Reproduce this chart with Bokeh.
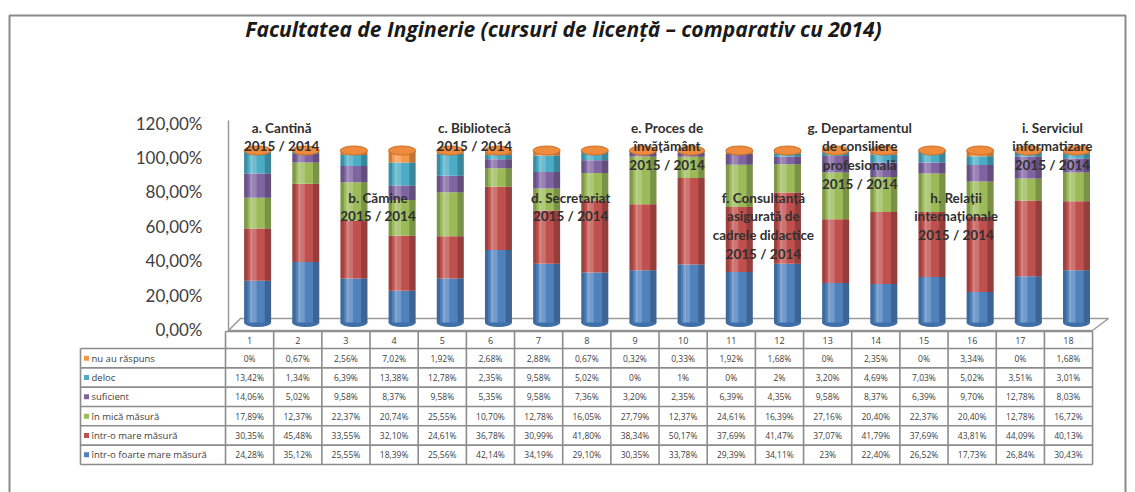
import numpy as np
from bokeh.plotting import figure
from bokeh.models import ColumnDataSource, Range1d, LinearAxis, FixedTicker, CustomJSTickFormatter
from bokeh.transform import dodge
from bokeh.core.properties import value
from bokeh.embed import file_html
from bokeh.resources import INLINE

# ---------------- data ----------------
title_text = "Facultatea de Inginerie (cursuri de licență – comparativ cu 2014)"
columns = list(range(1, 19))
series_names = ["nu au răspuns", "deloc", "suficient", "în mică măsură",
                "într-o mare măsură", "într-o foarte mare măsură"]
nu_au_raspuns = [0, 0.67, 2.56, 7.02, 1.92, 2.68, 2.88, 0.67, 0.32, 0.33, 1.92, 1.68, 0, 2.35, 0, 3.34, 0, 1.68]
deloc = [13.42, 1.34, 6.39, 13.38, 12.78, 2.35, 9.58, 5.02, 0, 1, 0, 2, 3.20, 4.69, 7.03, 5.02, 3.51, 3.01]
suficient = [14.06, 5.02, 9.58, 8.37, 9.58, 5.35, 9.58, 7.36, 3.20, 2.35, 6.39, 4.35, 9.58, 8.37, 6.39, 9.70, 12.78, 8.03]
in_mica_masura = [17.89, 12.37, 22.37, 20.74, 25.55, 10.70, 12.78, 16.05, 27.79, 12.37, 24.61, 16.39, 27.16, 20.40, 22.37, 20.40, 12.78, 16.72]
intr_o_mare_masura = [30.35, 45.48, 33.55, 32.10, 24.61, 36.78, 30.99, 41.80, 38.34, 50.17, 37.69, 41.47, 37.07, 41.79, 37.69, 43.81, 44.09, 40.13]
intr_o_foarte_mare_masura = [24.28, 35.12, 25.55, 18.39, 25.56, 42.14, 34.19, 29.10, 30.35, 33.78, 29.39, 34.11, 23, 22.40, 26.52, 17.73, 26.84, 30.43]
series_values = [nu_au_raspuns, deloc, suficient, in_mica_masura, intr_o_mare_masura, intr_o_foarte_mare_masura]
colors = ["#F79646", "#4BACC6", "#8064A2", "#9BBB59", "#C0504D", "#4F81BD"]
y_ticks = [0, 20, 40, 60, 80, 100, 120]
group_labels = [
    "a. Cantină\n2015 / 2014",
    "b. Cămine\n2015 / 2014",
    "c. Bibliotecă\n2015 / 2014",
    "d. Secretariat\n2015 / 2014",
    "e. Proces de\nînvățământ\n2015 / 2014",
    "f. Consultanță\nasigurată de\ncadrele didactice\n2015 / 2014",
    "g. Departamentul\nde consiliere\nprofesională\n2015 / 2014",
    "h. Relații\ninternaționale\n2015 / 2014",
    "i. Serviciul\ninformatizare\n2015 / 2014",
]

# ---------------- geometry helpers (page px -> data) ----------------
W, H = 1135, 492
PX_X = 48.17          # px per category column
COL1_PX = 249.1       # page x of column 1 centre
PX_Y = 1.72           # px per percent
Y0_PAGE = 329.0       # page y of 0 %


def dx(px):
    return 1 + (px - COL1_PX) / PX_X


def dy(py):
    return (Y0_PAGE - py) / PX_Y


DEPTH_X = 8 / PX_X
DEPTH_Y = 7 / PX_Y
BAR_W = 0.56

p = figure(width=W, height=H, x_range=Range1d(dx(0), dx(W)),
           y_range=Range1d(dy(H), dy(0)), x_axis_type=None, y_axis_type=None,
           output_backend="svg", toolbar_location=None, min_border=0,
           outline_line_color=None, background_fill_color="white",
           border_fill_color="white")

# outer border (left, top, right)
p.multi_line(xs=[[dx(9), dx(9), dx(1125), dx(1125)]],
             ys=[[dy(500), dy(15), dy(15), dy(500)]],
             line_color="#8a8a8a", line_width=2)

# y axis
yaxis = LinearAxis(ticker=FixedTicker(ticks=y_ticks),
                   formatter=CustomJSTickFormatter(code="return tick.toFixed(2).replace('.', ',') + '%';"),
                   fixed_location=dx(228), bounds=(dy(330), dy(120)),
                   axis_line_color="#9a9a9a", axis_line_width=1.5,
                   major_tick_line_color=None, minor_tick_line_color=None,
                   major_label_text_font="Lato", major_label_text_font_size="17px",
                   major_label_text_color="#404040", major_label_standoff=20)
p.add_layout(yaxis, "left")

# floor
p.patch(x=[dx(228), dx(240), dx(1108), dx(1092)],
        y=[dy(330), dy(318), dy(318), dy(330)],
        fill_color="white", line_color="#9a9a9a", line_width=1.5)

# stacked cylinders
stack_order = list(range(5, -1, -1))  # bottom -> top
bottom = np.zeros(len(columns))
xs = dodge("x", DEPTH_X, range=p.x_range)
src_base = ColumnDataSource(dict(x=columns, y=[0] * len(columns)))
p.ellipse(x=xs, y=dodge("y", DEPTH_Y), width=BAR_W, height=9, height_units="screen",
          source=src_base, fill_color="#3F6FA8", line_color=None)
for k in stack_order:
    vals = np.array(series_values[k], dtype=float)
    src = ColumnDataSource(dict(x=columns, bottom=bottom.copy(), top=bottom + vals))
    p.vbar(x=xs, bottom=dodge("bottom", DEPTH_Y), top=dodge("top", DEPTH_Y), width=BAR_W,
           source=src, fill_color=colors[k], line_color=None)
    bottom = bottom + vals

src_tot = ColumnDataSource(dict(x=columns, bottom=[0] * len(columns), top=list(bottom)))
# cylinder shading
for off, wdt, col, alpha in [(-0.245, 0.07, "black", 0.18), (0.215, 0.13, "black", 0.22),
                             (-0.09, 0.14, "white", 0.2), (-0.13, 0.05, "white", 0.12)]:
    p.vbar(x=dodge("x", DEPTH_X + off, range=p.x_range), bottom=dodge("bottom", DEPTH_Y),
           top=dodge("top", DEPTH_Y), width=wdt, source=src_tot,
           fill_color=col, fill_alpha=alpha, line_color=None)
p.ellipse(x=xs, y=dodge("top", DEPTH_Y), width=BAR_W, height=9, height_units="screen",
          source=src_tot, fill_color="#EE8B3C", line_color="#C9712C", line_width=1)

# group annotations
ann_x = [(columns[2 * i] + columns[2 * i + 1]) / 2 for i in range(len(group_labels))]
ann_y = [dy(119) if i % 2 == 0 else dy(189) for i in range(len(group_labels))]
p.text(x=dodge("x", DEPTH_X, range=p.x_range), y="y", text="t",
       source=ColumnDataSource(dict(x=ann_x, y=ann_y, t=group_labels)),
       text_font=value("Lato"), text_font_style="bold", text_font_size="13.5px",
       text_color="#303030", text_align="center", text_baseline="top",
       text_line_height=1.17)

# title
p.text(x=[dx(563)], y=[dy(28)], text=[title_text], text_font=value("Open Sans"),
       text_font_style="bold italic", text_font_size="21px", text_color="#1a1a1a",
       text_align="center", text_baseline="middle")

# ---------------- data table ----------------
TOP_PX, HEAD_PX, ROW_PX = 331, 348, 19.33
LEFT_PX = 80
n_rows = len(series_names)
row_bounds = [dy(HEAD_PX + r * ROW_PX) for r in range(n_rows + 1)]
row_centers = [dy(HEAD_PX + (r + 0.5) * ROW_PX) for r in range(n_rows)]
c_left, c_right = columns[0] - 0.5, columns[-1] + 0.5
lx, ly = [], []
lx.append([c_left, c_right]); ly.append([dy(TOP_PX), dy(TOP_PX)])
for yb in row_bounds:
    lx.append([dx(LEFT_PX), c_right]); ly.append([yb, yb])
for c in columns + [columns[-1] + 1]:
    lx.append([c - 0.5, c - 0.5]); ly.append([dy(TOP_PX), row_bounds[-1]])
lx.append([dx(LEFT_PX), dx(LEFT_PX)]); ly.append([row_bounds[0], row_bounds[-1]])
p.multi_line(xs=lx, ys=ly, line_color="#8c8c8c", line_width=1.6)


def fmt(v):
    return f"{int(v)}%" if float(v).is_integer() else f"{v:.2f}".replace(".", ",") + "%"


p.text(x=columns, y=[dy((TOP_PX + HEAD_PX) / 2)] * len(columns), text=[str(c) for c in columns],
       text_font=value("Open Sans"), text_font_size="9px", text_color="#404040",
       text_align="center", text_baseline="middle")
cx, cy, ct = [], [], []
for r, vals in enumerate(series_values):
    for c, v in zip(columns, vals):
        cx.append(c); cy.append(row_centers[r]); ct.append(fmt(v))
p.text(x="x", y="y", text="t", source=ColumnDataSource(dict(x=cx, y=cy, t=ct)),
       text_font=value("Open Sans"), text_font_size="8.5px", text_color="#404040",
       text_align="center", text_baseline="middle")
p.rect(x=[dx(86)] * n_rows, y=row_centers, width=5, height=5, width_units="screen",
       height_units="screen", fill_color=colors, line_color=None)
p.text(x=[dx(91)] * n_rows, y=row_centers, text=series_names,
       text_font=value("Open Sans"), text_font_size="9.5px", text_color="#404040",
       text_align="left", text_baseline="middle")

open("out.html", "w").write(file_html(p, INLINE))
